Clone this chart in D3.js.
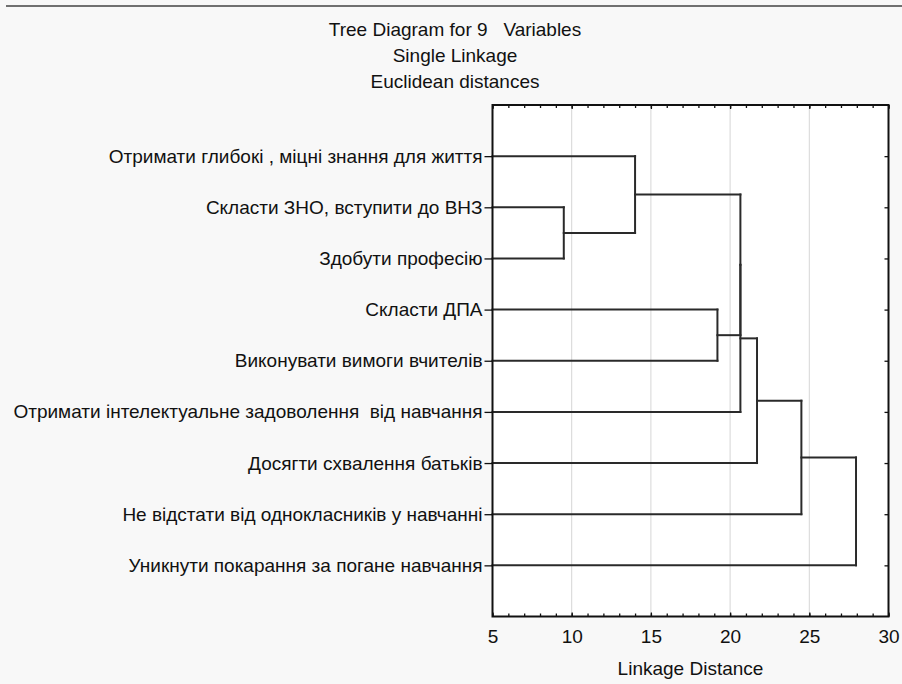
<!DOCTYPE html>
<html>
<head>
<meta charset="utf-8">
<script src="https://cdn.jsdelivr.net/npm/d3@7"></script>
<style>
  html, body { margin: 0; padding: 0; background: #f8f8f8; }
  svg { display: block; }
  text { font-family: "Liberation Sans", Arial, sans-serif; fill: #111; }
</style>
</head>
<body>
<svg id="chart" width="902" height="684"></svg>
<script>
// ---- data ----
const titleLines = ["Tree Diagram for 9\u00a0\u00a0\u00a0Variables", "Single Linkage", "Euclidean distances"];
const leaves = [
  "Отримати глибокі , міцні знання для життя",
  "Скласти ЗНО, вступити до ВНЗ",
  "Здобути професію",
  "Скласти ДПА",
  "Виконувати вимоги вчителів",
  "Отримати інтелектуальне задоволення\u00a0\u00a0від навчання",
  "Досягти схвалення батьків",
  "Не відстати від однокласників у навчанні",
  "Уникнути покарання за погане навчання"
];
// merges: node ids < 9 are leaves; merge k creates node 9 + k
const mergeLeft  = [1, 0, 3, 10, 12, 13, 14, 15];
const mergeRight = [2, 9, 4, 11, 5, 6, 7, 8];
const mergeDist  = [9.5, 14.0, 19.2, 20.65, 20.65, 21.7, 24.5, 27.95];
const xTicks = [5, 10, 15, 20, 25, 30];
const xTitle = "Linkage Distance";

// ---- layout ----
const W = 902, H = 684;
const FS = 19;
const plot = { left: 492.5, right: 888.5, top: 105, bottom: 616.5 };
const svg = d3.select("#chart");

svg.append("rect").attr("x", 0).attr("y", 0).attr("width", W).attr("height", H).attr("fill", "#f8f8f8");
svg.append("line").attr("x1", 6).attr("x2", W).attr("y1", 6).attr("y2", 6)
  .attr("stroke", "#707070").attr("stroke-width", 2);

const x = d3.scaleLinear().domain([5, 30]).range([plot.left, plot.right]);
const y = d3.scaleLinear().domain([0, leaves.length + 1]).range([plot.top, plot.bottom]);

// plot background
svg.append("rect").attr("x", plot.left).attr("y", plot.top)
  .attr("width", plot.right - plot.left).attr("height", plot.bottom - plot.top)
  .attr("fill", "#ffffff");

// grid lines
svg.append("g").selectAll("line").data(xTicks.slice(1, -1)).join("line")
  .attr("x1", d => x(d)).attr("x2", d => x(d))
  .attr("y1", plot.top).attr("y2", plot.bottom)
  .attr("stroke", "#d6d6d6").attr("stroke-width", 1);

// titles
svg.append("g").selectAll("text").data(titleLines).join("text")
  .attr("x", 455).attr("y", (d, i) => 36 + i * 26)
  .attr("text-anchor", "middle").attr("font-size", FS).text(d => d);

// ---- dendrogram geometry ----
const n = leaves.length;
const pos = [], dist = [], parentDist = [];
leaves.forEach((d, i) => { pos[i] = i + 1; dist[i] = 5; });
mergeDist.forEach((h, k) => {
  const id = n + k, a = mergeLeft[k], b = mergeRight[k];
  pos[id] = (pos[a] + pos[b]) / 2;
  dist[id] = h;
  parentDist[a] = h; parentDist[b] = h;
});

const lineColor = "#2a2a2a";
const dg = svg.append("g").attr("stroke", lineColor).attr("stroke-width", 2).attr("fill", "none")
  .attr("stroke-linecap", "square");

// horizontal segments
const nodes = d3.range(n + mergeDist.length).filter(id => parentDist[id] !== undefined);
dg.selectAll("line.h").data(nodes).join("line").attr("class", "h")
  .attr("x1", id => x(dist[id])).attr("x2", id => x(parentDist[id]))
  .attr("y1", id => y(pos[id])).attr("y2", id => y(pos[id]));

// vertical segments
dg.selectAll("line.v").data(mergeDist.map((h, k) => k)).join("line").attr("class", "v")
  .attr("x1", k => x(mergeDist[k])).attr("x2", k => x(mergeDist[k]))
  .attr("y1", k => y(pos[mergeLeft[k]])).attr("y2", k => y(pos[mergeRight[k]]));

// ---- axes ----
const minorTicks = d3.range(5, 31, 1);
const styleAxis = g => { g.select(".domain").remove(); g.selectAll("line").attr("stroke", "#111").attr("stroke-width", 1.3); };

svg.append("g").attr("transform", `translate(0,${plot.bottom})`)
  .call(d3.axisBottom(x).tickValues(minorTicks).tickSize(-3).tickFormat(""))
  .call(styleAxis);
svg.append("g").attr("transform", `translate(0,${plot.top})`)
  .call(d3.axisTop(x).tickValues(minorTicks).tickSize(-3).tickFormat(""))
  .call(styleAxis);

const bottomAxis = svg.append("g").attr("transform", `translate(0,${plot.bottom})`)
  .call(d3.axisBottom(x).tickValues(xTicks).tickSize(-4).tickPadding(13).tickFormat(d3.format("d")))
  .call(styleAxis);
bottomAxis.selectAll("text").attr("font-size", FS).attr("font-family", "Liberation Sans, Arial, sans-serif").attr("fill", "#111");

svg.append("g").attr("transform", `translate(0,${plot.top})`)
  .call(d3.axisTop(x).tickValues(xTicks).tickSize(-4).tickFormat(""))
  .call(styleAxis);

const leafIdx = d3.range(n);
const leftAxis = svg.append("g").attr("transform", `translate(${plot.left},0)`)
  .call(d3.axisLeft(y).tickValues(leafIdx.map(i => pos[i])).tickSize(8).tickPadding(2)
    .tickFormat((d, i) => leaves[i]))
  .call(styleAxis);
leftAxis.selectAll("text").attr("font-size", FS).attr("font-family", "Liberation Sans, Arial, sans-serif").attr("fill", "#111");

svg.append("g").attr("transform", `translate(${plot.right},0)`)
  .call(d3.axisRight(y).tickValues(leafIdx.map(i => pos[i])).tickSize(-4).tickFormat(""))
  .call(styleAxis);

// frame
svg.append("rect").attr("x", plot.left).attr("y", plot.top)
  .attr("width", plot.right - plot.left).attr("height", plot.bottom - plot.top)
  .attr("fill", "none").attr("stroke", "#111").attr("stroke-width", 2);

// x axis title
svg.append("text").attr("x", (plot.left + plot.right) / 2).attr("y", 675)
  .attr("text-anchor", "middle").attr("font-size", FS).text(xTitle);
</script>
</body>
</html>
